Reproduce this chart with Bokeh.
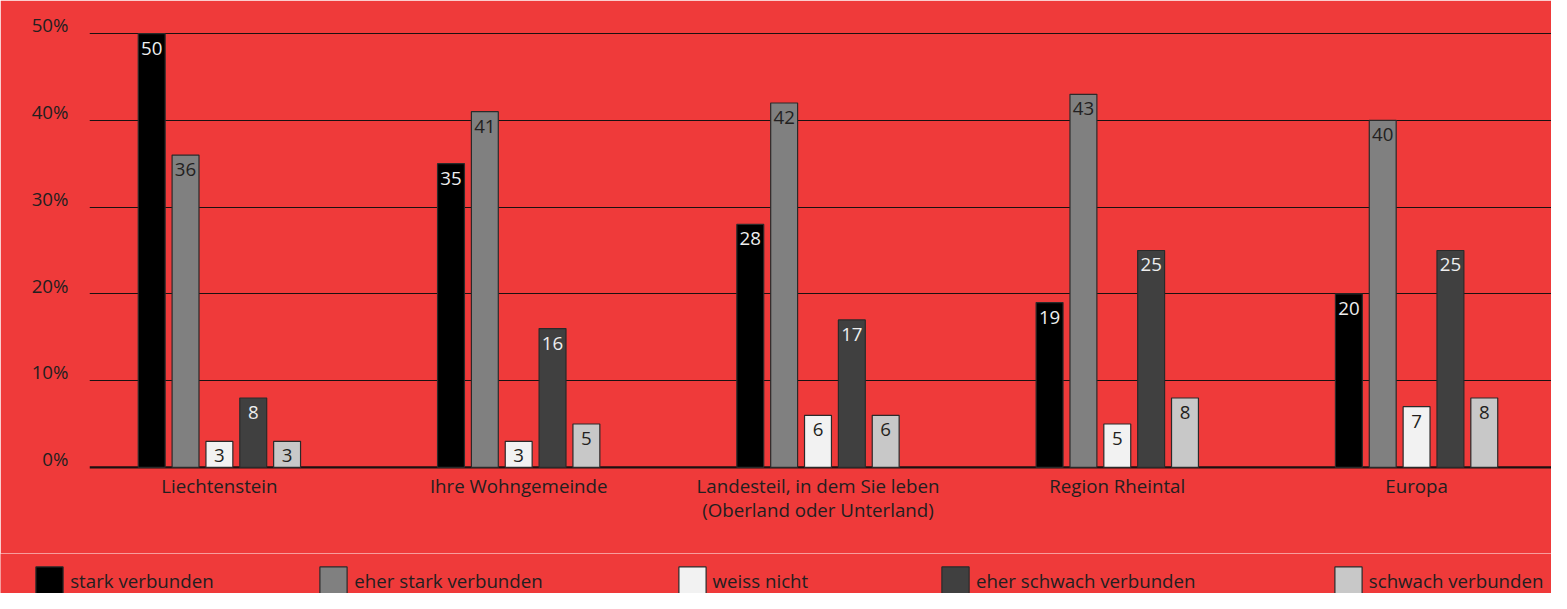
from bokeh.plotting import figure
from bokeh.models import ColumnDataSource, FixedTicker, Span, Legend, LegendItem, Range1d
from bokeh.layouts import column
from bokeh.transform import dodge
from bokeh.core.properties import value
from bokeh.embed import file_html
from bokeh.resources import INLINE

# ---- data ----
categories = ["Liechtenstein", "Ihre Wohngemeinde",
              "Landesteil, in dem Sie leben\n(Oberland oder Unterland)",
              "Region Rheintal", "Europa"]
series_names = ["stark verbunden", "eher stark verbunden", "weiss nicht",
                "eher schwach verbunden", "schwach verbunden"]
stark = [50, 35, 28, 19, 20]
eher_stark = [36, 41, 42, 43, 40]
weiss_nicht = [3, 3, 6, 5, 7]
eher_schwach = [8, 16, 17, 25, 25]
schwach = [3, 5, 6, 8, 8]
y_ticks = [0, 10, 20, 30, 40, 50]

fill_colors = ["#000000", "#808080", "#F2F2F2", "#404040", "#C8C8C8"]
label_colors = ["#EEEEEE", "#231F20", "#231F20", "#EEEEEE", "#231F20"]

BG = "#EF3A3A"
TXT = "#231F20"
FONT = "Open Sans"
FS = "18.7px"

W = 1551
H_CHART = 553
H_LEG = 40

p = figure(width=W, height=H_CHART, output_backend="svg", toolbar_location=None,
           x_range=Range1d(-0.434, 4.4508), y_range=Range1d(-0.357, 52.89),
           min_border_left=89, min_border_right=0, min_border_top=8, min_border_bottom=83,
           frame_align=False)
p.background_fill_color = BG
p.border_fill_color = BG
p.outline_line_color = BG
p.outline_line_width = 2

# grid
p.xgrid.visible = False
p.ygrid.ticker = FixedTicker(ticks=y_ticks[1:])
p.ygrid.grid_line_color = "#1A1111"
p.ygrid.grid_line_width = 1.2
p.ygrid.level = "underlay"
p.add_layout(Span(location=0, dimension="width", line_color="#1A1111",
                  line_width=2.2, level="underlay"))

# y axis (labels sit on top of gridlines)
off = 1.0
p.yaxis.ticker = FixedTicker(ticks=[t + off for t in y_ticks])
p.yaxis.major_label_overrides = {t + off: f"{t}%" for t in y_ticks}
p.yaxis.axis_line_color = None
p.yaxis.major_tick_line_color = None
p.yaxis.minor_tick_line_color = None
p.yaxis.major_label_standoff = 15
p.yaxis.major_label_text_font = FONT
p.yaxis.major_label_text_font_size = FS
p.yaxis.major_label_text_color = TXT

# x axis
p.xaxis.ticker = FixedTicker(ticks=list(range(len(categories))))
p.xaxis.major_label_overrides = {i: c for i, c in enumerate(categories)}
p.xaxis.axis_line_color = None
p.xaxis.major_tick_line_color = None
p.xaxis.minor_tick_line_color = None
p.xaxis.major_label_standoff = -4
p.xaxis.major_label_text_font = FONT
p.xaxis.major_label_text_font_size = FS
p.xaxis.major_label_text_color = TXT
p.xaxis.major_label_text_line_height = 0.98

src = ColumnDataSource(dict(
    x=list(range(len(categories))),
    s0=stark, s1=eher_stark, s2=weiss_nicht, s3=eher_schwach, s4=schwach,
    t0=[str(v) for v in stark], t1=[str(v) for v in eher_stark],
    t2=[str(v) for v in weiss_nicht], t3=[str(v) for v in eher_schwach],
    t4=[str(v) for v in schwach],
))

step = 0.1131
bw = 0.0899
for k in range(5):
    o = (k - 2) * step
    p.vbar(x=dodge("x", o), top=f"s{k}", bottom=0, width=bw, source=src,
           fill_color=fill_colors[k], line_color="#2A2A2A", line_width=1.2)
    p.text(x=dodge("x", o), y=f"s{k}", text=f"t{k}", source=src,
           text_align="center", text_baseline="middle", y_offset=14.5,
           text_font=value(FONT), text_font_size=FS, text_color=label_colors[k])

# ---- legend strip (separate figure below the chart) ----
lp = figure(width=W, height=H_LEG, output_backend="svg", toolbar_location=None,
            x_range=Range1d(0, W), y_range=Range1d(0, H_LEG),
            x_axis_type=None, y_axis_type=None, frame_align=False,
            min_border_left=0, min_border_right=0, min_border_top=0, min_border_bottom=0)
lp.background_fill_color = BG
lp.border_fill_color = BG
lp.outline_line_color = None
lp.xgrid.visible = False
lp.ygrid.visible = False

legend_x = [35.6, 319.7, 678.0, 941.3, 1334.2]
GL = 34  # legend swatch box; the drawn square is inset by 10% on each side
inset = GL * 0.1
for k in range(5):
    # off-screen placeholder glyph that only supplies the legend swatch style
    r = lp.vbar(x=[-1000], top=[0], width=1, fill_color=fill_colors[k],
                line_color="#2A2A2A", line_width=1.2)
    lg = Legend(items=[LegendItem(label=series_names[k], renderers=[r])],
                location=(legend_x[k] - inset, -4), orientation="horizontal",
                padding=0, margin=0, spacing=0, glyph_width=GL, glyph_height=GL,
                label_standoff=4, label_text_font=FONT, label_text_font_size=FS,
                label_text_color=TXT, background_fill_alpha=0, border_line_alpha=0)
    lp.add_layout(lg, "center")

layout = column(p, lp, spacing=0)
open("out.html", "w").write(file_html(layout, INLINE))
